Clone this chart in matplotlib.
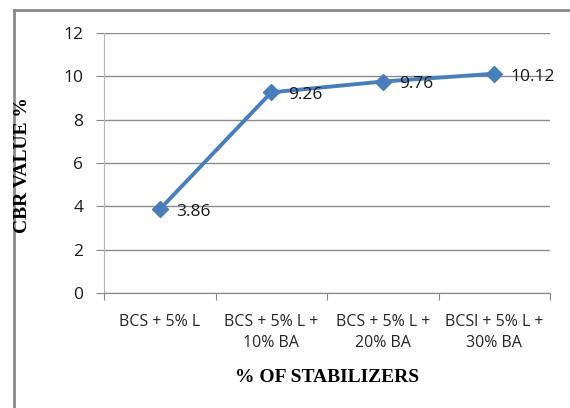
import matplotlib.pyplot as plt
from matplotlib.lines import Line2D

categories = ["BCS + 5% L", "BCS + 5% L +\n10% BA", "BCS + 5% L +\n20% BA", "BCSl + 5% L +\n30% BA"]
cbr_values = [3.86, 9.26, 9.76, 10.12]
y_ticks = [0, 2, 4, 6, 8, 10, 12]

W, H = 570, 408
fig = plt.figure(figsize=(W / 100, H / 100), dpi=100)
ax = fig.add_axes([104 / W, 1 - 293 / H, (550 - 104) / W, (293 - 33) / H])

x = [i + 0.5 for i in range(len(categories))]
ax.plot(x, cbr_values, color="#4a7ebb", linewidth=2.8, marker="D", markersize=8.5,
        markeredgecolor="#4a7ebb", zorder=3, clip_on=False)
for xi, v in zip(x, cbr_values):
    ax.annotate(f"{v:g}", (xi, v), xytext=(12, -2), textcoords="offset points",
                ha="left", va="center", fontsize=12.5, family="Open Sans", color="#1a1a1a")

ax.set_xlim(0, len(categories))
ax.set_ylim(0, 12)
ax.set_yticks(y_ticks)
ax.set_xticks(range(len(categories) + 1))
ax.set_xticklabels([])
ax.set_xticks(x, minor=True)
ax.set_xticklabels(categories, minor=True, fontsize=11.5, family="Open Sans", color="#262626",
                   linespacing=1.45)
ax.tick_params(axis="x", which="minor", length=0, pad=15)
ax.tick_params(axis="x", which="major", length=5, color="#868686", direction="out")
ax.tick_params(axis="y", length=6, color="#868686", labelsize=12.5, pad=9, labelcolor="#1a1a1a")
for lab in ax.get_yticklabels():
    lab.set_family("Open Sans")

ax.grid(axis="y", color="#8c8c8c", linewidth=1)
ax.set_axisbelow(True)
for s in ["top", "right"]:
    ax.spines[s].set_visible(False)
ax.spines["left"].set_color("#b5b5b5")
ax.spines["bottom"].set_color("#868686")

fig.text(327 / W, 1 - 377 / H, "% OF STABILIZERS", ha="center", va="center",
         fontsize=14, fontweight="bold", family="Liberation Serif")
fig.text(23 / W, 1 - 165 / H, "CBR VALUE %", ha="center", va="center", rotation=90,
         fontsize=14, fontweight="bold", family="Liberation Serif")

# chart frame (top and left edges only)
fig.add_artist(Line2D([14 / W, 1], [1 - 10 / H, 1 - 10 / H], color="#8a8a8a", linewidth=2,
                      transform=fig.transFigure))
fig.add_artist(Line2D([14 / W, 14 / W], [0, 1 - 10 / H], color="#8a8a8a", linewidth=2,
                      transform=fig.transFigure))

fig.savefig("out.png", dpi=100)
